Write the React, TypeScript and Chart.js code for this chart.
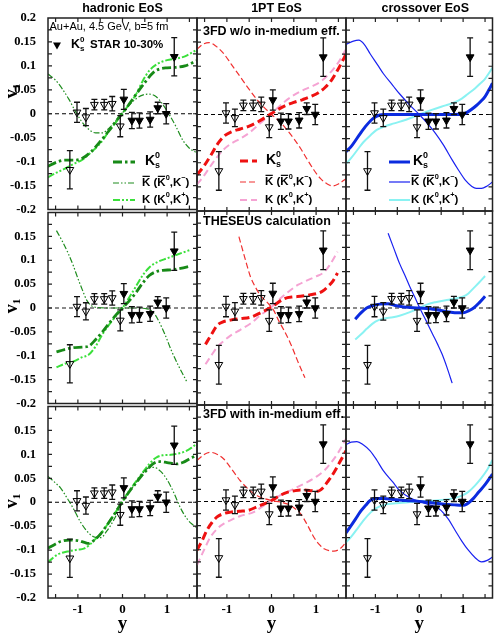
import React, { useEffect, useRef } from 'react';
import { Chart, registerables } from 'chart.js';
Chart.register(...registerables);

type Pt = [number, number];

// ---------------- text / ticks ----------------
const columnTitles = ['hadronic EoS', '1PT EoS', 'crossover EoS'];
const rowLabels = ['3FD w/o in-medium eff.', 'THESEUS calculation', '3FD with in-medium eff.'];
const xTickValues = [-1, 0, 1];
const xMinorTickValues = [-1.5, -1, -0.5, 0, 0.5, 1, 1.5];
const yTickValuesTop = [0.2, 0.15, 0.1, 0.05, 0, -0.05, -0.1, -0.15, -0.2];
const yTickValuesLower = [0.15, 0.1, 0.05, 0, -0.05, -0.1, -0.15, -0.2];
const yMinorTickValues = [0.175, 0.15, 0.125, 0.1, 0.075, 0.05, 0.025, 0, -0.025, -0.05, -0.075, -0.1, -0.125, -0.15, -0.175];

// ---------------- STAR data (K0s, 10-30%) ----------------
const starFilledRap = [0.03, 0.21, 0.38, 0.62, 0.79, 0.98, 1.16];
const starFilledV1 = [0.030, -0.014, -0.014, -0.012, 0.012, 0.000, 0.119];
const starFilledErr = [0.021, 0.017, 0.016, 0.016, 0.012, 0.021, 0.040];
const starOpenRap = [-1.18, -1.02, -0.82, -0.63, -0.41, -0.23, -0.05];
const starOpenV1 = [-0.117, 0.003, -0.007, 0.019, 0.019, 0.021, -0.026];
const starOpenErr = [0.040, 0.021, 0.018, 0.011, 0.011, 0.015, 0.022];

// ---------------- model curves: row 1, 3FD w/o in-medium ----------------
const hadWoK0s: Pt[] = [[-1.67,-0.110],[-1.5,-0.102],[-1.3,-0.097],[-1.1,-0.097],[-0.9,-0.093],[-0.7,-0.079],[-0.5,-0.058],[-0.3,-0.035],[-0.1,-0.010],[0,0.001],[0.15,0.02],[0.3,0.040],[0.5,0.065],[0.7,0.087],[0.85,0.094],[1.0,0.096],[1.2,0.097],[1.4,0.100],[1.67,0.111]];
const hadWoKbar: Pt[] = [[-1.67,0.083],[-1.5,0.070],[-1.35,0.052],[-1.2,0.030],[-1.05,0.004],[-0.9,-0.018],[-0.75,-0.033],[-0.6,-0.040],[-0.45,-0.040],[-0.3,-0.030],[-0.15,-0.015],[0,0.002],[0.15,0.018],[0.3,0.031],[0.45,0.039],[0.6,0.041],[0.75,0.036],[0.9,0.020],[1.05,-0.002],[1.2,-0.027],[1.35,-0.055],[1.5,-0.072],[1.67,-0.082]];
const hadWoK: Pt[] = [[-1.67,-0.133],[-1.5,-0.124],[-1.3,-0.115],[-1.1,-0.105],[-0.9,-0.096],[-0.7,-0.080],[-0.5,-0.062],[-0.3,-0.036],[-0.1,-0.012],[0,0.001],[0.15,0.02],[0.3,0.040],[0.45,0.068],[0.6,0.090],[0.8,0.105],[1.0,0.112],[1.2,0.115],[1.4,0.120],[1.67,0.134]];

const ptWoK0s: Pt[] = [[-1.67,-0.125],[-1.5,-0.105],[-1.35,-0.083],[-1.2,-0.060],[-1.05,-0.044],[-0.9,-0.036],[-0.7,-0.030],[-0.5,-0.024],[-0.3,-0.015],[0,0.002],[0.3,0.018],[0.5,0.025],[0.7,0.031],[0.9,0.038],[1.05,0.045],[1.2,0.056],[1.35,0.072],[1.5,0.095],[1.67,0.125]];
const ptWoKbar: Pt[] = [[-1.67,0.135],[-1.55,0.145],[-1.4,0.149],[-1.25,0.142],[-1.07,0.126],[-0.9,0.104],[-0.7,0.078],[-0.5,0.052],[-0.3,0.028],[0,0.0],[0.2,-0.016],[0.35,-0.032],[0.5,-0.050],[0.65,-0.070],[0.8,-0.093],[0.95,-0.115],[1.1,-0.133],[1.25,-0.144],[1.37,-0.148],[1.5,-0.144],[1.67,-0.133]];
const ptWoK: Pt[] = [[-1.67,-0.145],[-1.5,-0.125],[-1.3,-0.098],[-1.1,-0.075],[-0.9,-0.060],[-0.7,-0.050],[-0.5,-0.038],[-0.3,-0.022],[0,0.002],[0.3,0.027],[0.5,0.040],[0.7,0.050],[0.9,0.058],[1.1,0.068],[1.3,0.085],[1.5,0.108],[1.67,0.135]];

const coWoK0s: Pt[] = [[-1.67,-0.077],[-1.55,-0.066],[-1.35,-0.040],[-1.2,-0.022],[-1.05,-0.008],[-0.9,-0.001],[-0.8,0.0],[-0.4,0.0],[0,0.0],[0.4,0.0],[0.8,0.0],[1.0,0.001],[1.1,0.005],[1.27,0.016],[1.4,0.027],[1.5,0.037],[1.6,0.053],[1.67,0.065]];
const coWoKbar: Pt[] = [[-1.67,0.145],[-1.5,0.152],[-1.38,0.154],[-1.25,0.145],[-1.12,0.126],[-0.95,0.103],[-0.82,0.085],[-0.6,0.060],[-0.45,0.043],[-0.2,0.018],[0,0.0],[0.2,-0.020],[0.37,-0.039],[0.55,-0.063],[0.75,-0.094],[0.9,-0.116],[1.05,-0.136],[1.2,-0.149],[1.3,-0.153],[1.42,-0.153],[1.55,-0.148],[1.67,-0.140]];
const coWoK: Pt[] = [[-1.67,-0.102],[-1.55,-0.090],[-1.4,-0.072],[-1.27,-0.057],[-1.1,-0.042],[-0.97,-0.032],[-0.8,-0.025],[-0.6,-0.019],[-0.3,-0.011],[0,0.0],[0.3,0.010],[0.6,0.019],[0.8,0.025],[0.97,0.033],[1.1,0.042],[1.27,0.054],[1.4,0.065],[1.5,0.074],[1.67,0.097]];

// ---------------- row 2, THESEUS ----------------
const hadThK0s: Pt[] = [[-1.48,-0.092],[-1.3,-0.087],[-1.1,-0.083],[-0.9,-0.082],[-0.76,-0.080],[-0.6,-0.066],[-0.45,-0.050],[-0.3,-0.032],[-0.15,-0.015],[0,0.0],[0.15,0.015],[0.3,0.032],[0.45,0.052],[0.6,0.068],[0.75,0.076],[0.9,0.079],[1.1,0.080],[1.3,0.083],[1.53,0.088]];
const hadThKbar: Pt[] = [[-1.48,0.162],[-1.35,0.140],[-1.22,0.115],[-1.1,0.088],[-1.0,0.062],[-0.9,0.038],[-0.8,0.016],[-0.7,0.005],[-0.55,0.001],[-0.3,0.0],[0,0.0],[0.3,0.0],[0.55,-0.002],[0.68,-0.008],[0.8,-0.025],[0.95,-0.055],[1.1,-0.090],[1.25,-0.120],[1.45,-0.156]];
const hadThK: Pt[] = [[-1.48,-0.124],[-1.3,-0.117],[-1.1,-0.112],[-0.9,-0.103],[-0.76,-0.098],[-0.6,-0.080],[-0.45,-0.055],[-0.3,-0.035],[-0.15,-0.017],[0,0.0],[0.15,0.022],[0.3,0.045],[0.45,0.068],[0.6,0.085],[0.8,0.097],[1.0,0.104],[1.2,0.111],[1.5,0.121]];

const ptThK0s: Pt[] = [[-1.48,-0.075],[-1.35,-0.055],[-1.22,-0.036],[-1.1,-0.029],[-0.92,-0.025],[-0.7,-0.022],[-0.47,-0.019],[-0.25,-0.010],[0,0.002],[0.28,0.019],[0.5,0.023],[0.65,0.024],[0.85,0.027],[1.03,0.030],[1.15,0.035],[1.25,0.043],[1.38,0.056],[1.48,0.072]];
const ptThKbar: Pt[] = [[-0.73,0.147],[-0.7,0.137],[-0.55,0.088],[-0.47,0.064],[-0.36,0.043],[-0.25,0.026],[-0.1,0.012],[0.05,-0.005],[0.16,-0.026],[0.28,-0.046],[0.43,-0.074],[0.58,-0.108],[0.75,-0.144]];
const ptThK: Pt[] = [[-1.48,-0.116],[-1.35,-0.098],[-1.22,-0.081],[-1.07,-0.068],[-0.92,-0.057],[-0.7,-0.045],[-0.47,-0.032],[-0.25,-0.015],[0,0.002],[0.2,0.020],[0.43,0.037],[0.6,0.048],[0.8,0.057],[1.0,0.065],[1.18,0.074],[1.3,0.088],[1.48,0.116]];

const coThK0s: Pt[] = [[-1.46,-0.023],[-1.33,-0.010],[-1.2,0.0],[-1.05,0.005],[-0.9,0.008],[-0.71,0.009],[-0.55,0.005],[-0.35,0.002],[0,0.0],[0.37,-0.003],[0.67,-0.008],[0.9,-0.010],[1.01,-0.010],[1.12,-0.006],[1.24,0.0],[1.37,0.011],[1.5,0.024]];
const coThKbar: Pt[] = [[-0.71,0.154],[-0.58,0.123],[-0.45,0.092],[-0.33,0.068],[-0.22,0.045],[-0.1,0.022],[0,0.002],[0.15,-0.025],[0.3,-0.053],[0.42,-0.075],[0.52,-0.095],[0.63,-0.122],[0.75,-0.155]];
const coThK: Pt[] = [[-1.46,-0.065],[-1.3,-0.052],[-1.2,-0.043],[-1.0,-0.028],[-0.82,-0.022],[-0.6,-0.019],[-0.45,-0.016],[-0.2,-0.008],[0,0.0],[0.2,0.008],[0.37,0.012],[0.67,0.017],[0.85,0.020],[1.01,0.024],[1.12,0.030],[1.24,0.041],[1.37,0.053],[1.5,0.066]];

// ---------------- row 3, 3FD with in-medium ----------------
const hadWK0s: Pt[] = [[-1.67,-0.096],[-1.5,-0.087],[-1.39,-0.082],[-1.2,-0.079],[-1.0,-0.080],[-0.85,-0.084],[-0.76,-0.086],[-0.62,-0.078],[-0.49,-0.066],[-0.35,-0.048],[-0.19,-0.026],[0,0.002],[0.15,0.022],[0.3,0.040],[0.45,0.058],[0.55,0.068],[0.68,0.080],[0.8,0.085],[1.0,0.083],[1.2,0.080],[1.35,0.083],[1.53,0.092],[1.67,0.098]];
const hadWKbar: Pt[] = [[-1.67,0.054],[-1.5,0.040],[-1.39,0.030],[-1.25,0.010],[-1.09,-0.015],[-0.95,-0.040],[-0.8,-0.060],[-0.65,-0.072],[-0.49,-0.074],[-0.35,-0.060],[-0.19,-0.036],[0,0.0],[0.15,0.022],[0.3,0.040],[0.45,0.060],[0.55,0.070],[0.7,0.073],[0.85,0.065],[1.0,0.047],[1.15,0.020],[1.3,-0.012],[1.45,-0.035],[1.55,-0.045],[1.67,-0.053]];
const hadWK: Pt[] = [[-1.67,-0.125],[-1.45,-0.109],[-1.24,-0.103],[-1.0,-0.099],[-0.87,-0.097],[-0.75,-0.090],[-0.62,-0.078],[-0.49,-0.066],[-0.35,-0.048],[-0.19,-0.026],[0,0.002],[0.15,0.024],[0.3,0.043],[0.45,0.062],[0.6,0.080],[0.75,0.093],[0.9,0.098],[1.08,0.099],[1.25,0.102],[1.4,0.106],[1.55,0.114],[1.67,0.123]];

const ptWK0s: Pt[] = [[-1.67,-0.101],[-1.55,-0.080],[-1.45,-0.060],[-1.33,-0.043],[-1.22,-0.032],[-1.07,-0.025],[-0.92,-0.022],[-0.7,-0.020],[-0.55,-0.019],[-0.3,-0.010],[0,0.002],[0.2,0.013],[0.35,0.019],[0.5,0.022],[0.65,0.024],[0.85,0.023],[1.03,0.021],[1.15,0.028],[1.25,0.040],[1.33,0.050],[1.45,0.068],[1.55,0.085],[1.67,0.105]];
const ptWKbar: Pt[] = [[-1.67,0.085],[-1.5,0.098],[-1.37,0.102],[-1.2,0.097],[-1.07,0.088],[-0.9,0.068],[-0.7,0.043],[-0.5,0.024],[-0.32,0.012],[0,0.002],[0.2,-0.001],[0.35,-0.005],[0.5,-0.013],[0.65,-0.025],[0.8,-0.048],[0.95,-0.074],[1.08,-0.090],[1.18,-0.098],[1.3,-0.102],[1.4,-0.103],[1.55,-0.097],[1.67,-0.084]];
const ptWK: Pt[] = [[-1.67,-0.132],[-1.5,-0.098],[-1.37,-0.074],[-1.2,-0.055],[-1.05,-0.045],[-0.92,-0.039],[-0.7,-0.030],[-0.4,-0.022],[-0.2,-0.010],[0,0.002],[0.2,0.013],[0.43,0.023],[0.6,0.031],[0.8,0.040],[1.0,0.051],[1.18,0.064],[1.33,0.080],[1.48,0.099],[1.67,0.130]];

const coWK0s: Pt[] = [[-1.67,-0.065],[-1.57,-0.052],[-1.45,-0.036],[-1.35,-0.022],[-1.22,-0.008],[-1.12,0.002],[-0.97,0.006],[-0.8,0.006],[-0.6,0.004],[-0.3,0.002],[0,0.0],[0.3,-0.003],[0.52,-0.005],[0.8,-0.007],[0.97,-0.008],[1.05,-0.007],[1.12,-0.003],[1.23,0.006],[1.35,0.019],[1.5,0.035],[1.67,0.057]];
const coWKbar: Pt[] = [[-1.67,0.118],[-1.55,0.123],[-1.42,0.124],[-1.27,0.117],[-1.12,0.105],[-0.97,0.086],[-0.82,0.064],[-0.6,0.040],[-0.45,0.023],[-0.2,0.007],[0,0.0],[0.2,-0.006],[0.45,-0.015],[0.65,-0.035],[0.82,-0.060],[0.97,-0.082],[1.12,-0.101],[1.27,-0.116],[1.42,-0.125],[1.55,-0.122],[1.67,-0.115]];
const coWK: Pt[] = [[-1.67,-0.085],[-1.55,-0.073],[-1.4,-0.055],[-1.27,-0.039],[-1.1,-0.022],[-0.97,-0.013],[-0.75,-0.006],[-0.45,-0.003],[0,0.0],[0.52,0.003],[0.8,0.007],[0.97,0.012],[1.12,0.020],[1.27,0.033],[1.4,0.047],[1.55,0.066],[1.67,0.086]];

const CURVES = [
  [{ K0s: hadWoK0s, Kbar: hadWoKbar, K: hadWoK }, { K0s: ptWoK0s, Kbar: ptWoKbar, K: ptWoK }, { K0s: coWoK0s, Kbar: coWoKbar, K: coWoK }],
  [{ K0s: hadThK0s, Kbar: hadThKbar, K: hadThK }, { K0s: ptThK0s, Kbar: ptThKbar, K: ptThK }, { K0s: coThK0s, Kbar: coThKbar, K: coThK }],
  [{ K0s: hadWK0s, Kbar: hadWKbar, K: hadWK }, { K0s: ptWK0s, Kbar: ptWKbar, K: ptWK }, { K0s: coWK0s, Kbar: coWKbar, K: coWK }],
];

// ---------------- styles / layout ----------------
type LS = { color: string; width: number; dash: number[] };
const LINE_STYLES: { K0s: LS; Kbar: LS; K: LS }[] = [
  { K0s: { color: '#178a17', width: 2.8, dash: [9, 3, 2.5, 3] }, Kbar: { color: '#1e8c1e', width: 1.2, dash: [6, 2, 1.5, 2, 1.5, 2] }, K: { color: '#3be03b', width: 2, dash: [7, 2, 2, 2, 2, 2] } },
  { K0s: { color: '#ee1111', width: 3, dash: [8, 4] }, Kbar: { color: '#f03030', width: 1.2, dash: [6, 3] }, K: { color: '#f5a3d3', width: 2, dash: [7, 4] } },
  { K0s: { color: '#0b2bdf', width: 3, dash: [] }, Kbar: { color: '#1a22f0', width: 1.2, dash: [] }, K: { color: '#8af2f2', width: 2, dash: [] } },
];

const PAGE_W = 498, PAGE_H = 636;
const X_MIN = -1.67, X_MAX = 1.67, Y_MIN = -0.2, Y_MAX = 0.2;
const PLOT_X0 = 48, COL_W = 149;
const ROW_TOP = [18, 211, 405];
const ROW_BOT = [211, 405, 598];
const M = 10;
const SANS = '"Liberation Sans", Arial, sans-serif';
const SERIF = '"Liberation Serif", "Times New Roman", serif';
const colTitleDx = [0, 5, 6];
const rowLabelDy = [14, 11, 10];
const v1CenterY = [91, 306, 501];
const zeroLineStyle = [
  { color: '#000', width: 1, dash: [4, 3] },
  { color: '#666', width: 1.5, dash: [4, 3] },
  { color: '#000', width: 1, dash: [4, 3] },
];
// legend geometry (relative to plot area) for top row
const LEGEND = [
  { x0: 65, x1: 87, labK0s: 97, lab: 94, ys: [144, 165, 182] },
  { x0: 43, x1: 60, labK0s: 69, lab: 68, ys: [143, 164, 182] },
  { x0: 43, x1: 64, labK0s: 67, lab: 65, ys: [144, 164, 182] },
];

type Piece = { t: string; sup?: boolean; sub?: boolean; bar?: boolean; noAdv?: boolean };
function drawRich(ctx: CanvasRenderingContext2D, x: number, y: number, pieces: Piece[], size: number) {
  let cx = x;
  ctx.textAlign = 'left';
  ctx.textBaseline = 'middle';
  for (const p of pieces) {
    const s = p.sup || p.sub ? size * 0.64 : size;
    ctx.font = `bold ${s}px ${SANS}`;
    const dy = p.sup ? -size * 0.42 : p.sub ? size * 0.32 : 0;
    ctx.fillText(p.t, cx, y + dy);
    const w = ctx.measureText(p.t).width;
    if (p.bar) ctx.fillRect(cx + 0.5, y - size * 0.5 - 1.5, w - 1, 1.2);
    if (!p.noAdv) cx += w;
  }
}

function Panel({ r, c }: { r: number; c: number }) {
  const ref = useRef<HTMLCanvasElement>(null);
  const plotL = PLOT_X0 + c * COL_W, plotR = plotL + COL_W;
  const plotT = ROW_TOP[r], plotB = ROW_BOT[r];
  const cl = c === 0 ? 0 : plotL - M;
  const cr = c === 2 ? PAGE_W : plotR + M;
  const ct = r === 0 ? 0 : plotT - M;
  const cb = r === 2 ? PAGE_H : plotB + M;
  const cw = cr - cl, chh = cb - ct;

  useEffect(() => {
    const canvas = ref.current!;
    const curves = CURVES[r][c];
    const st = LINE_STYLES[c];
    const zl = zeroLineStyle[r];
    const toXY = (arr: Pt[]) => arr.map(([x, y]) => ({ x, y }));
    const curveDs = (arr: Pt[], s: LS) => ({
      data: toXY(arr), borderColor: s.color, borderWidth: s.width, borderDash: s.dash,
      pointRadius: 0, fill: false, cubicInterpolationMode: 'monotone' as const,
    });
    const yTicks = r === 0 ? yTickValuesTop : yTickValuesLower;

    const decor = {
      id: 'decor',
      beforeDatasetDraw(chart: any, args: any) {
        if (args.index !== 1) return;
        const xs = chart.scales.x, ys = chart.scales.y, ctx = chart.ctx as CanvasRenderingContext2D;
        ctx.save();
        ctx.strokeStyle = '#111';
        ctx.lineWidth = 1.3;
        ctx.setLineDash([]);
        const bar = (xv: number, v: number, e: number) => {
          const px = xs.getPixelForValue(xv);
          const p1 = ys.getPixelForValue(v - e), p2 = ys.getPixelForValue(v + e);
          ctx.beginPath();
          ctx.moveTo(px, p1); ctx.lineTo(px, p2);
          ctx.moveTo(px - 3, p1); ctx.lineTo(px + 3, p1);
          ctx.moveTo(px - 3, p2); ctx.lineTo(px + 3, p2);
          ctx.stroke();
        };
        starFilledRap.forEach((x, i) => bar(x, starFilledV1[i], starFilledErr[i]));
        starOpenRap.forEach((x, i) => bar(x, starOpenV1[i], starOpenErr[i]));
        ctx.restore();
      },
      afterDraw(chart: any) {
        const ctx = chart.ctx as CanvasRenderingContext2D;
        const xs = chart.scales.x, ys = chart.scales.y;
        const { left: L, right: R, top: T, bottom: B } = chart.chartArea;
        ctx.save();
        ctx.setLineDash([]);
        ctx.strokeStyle = '#222';
        ctx.lineWidth = 1.2;
        ctx.beginPath();
        for (const v of yMinorTickValues) {
          const py = ys.getPixelForValue(v);
          ctx.moveTo(L, py); ctx.lineTo(L + 4, py);
          ctx.moveTo(R, py); ctx.lineTo(R - 4, py);
        }
        for (const v of xMinorTickValues) {
          const px = xs.getPixelForValue(v);
          ctx.moveTo(px, B); ctx.lineTo(px, B - 4);
          ctx.moveTo(px, T); ctx.lineTo(px, T + 4);
        }
        ctx.stroke();
        ctx.lineWidth = 1.5;
        ctx.strokeRect(L, T, R - L, B - T);

        ctx.fillStyle = '#000';
        // column titles
        if (r === 0) {
          ctx.font = `bold 12.5px ${SANS}`;
          ctx.textAlign = 'center';
          ctx.textBaseline = 'middle';
          ctx.fillText(columnTitles[c], (L + R) / 2 + colTitleDx[c], 9 - ct);
        }
        // row labels in the middle column
        if (c === 1) {
          ctx.font = `bold 12.5px ${SANS}`;
          ctx.textAlign = 'left';
          ctx.textBaseline = 'middle';
          ctx.fillText(rowLabels[r], L + 6, T + rowLabelDy[r]);
        }
        // y-axis title v1
        if (c === 0) {
          ctx.save();
          ctx.translate(12 - cl, v1CenterY[r] - ct);
          ctx.rotate(-Math.PI / 2);
          ctx.textBaseline = 'middle';
          ctx.textAlign = 'left';
          ctx.font = `bold 18px ${SERIF}`;
          const wv = ctx.measureText('v').width;
          ctx.font = `bold 11px ${SERIF}`;
          const w1 = ctx.measureText('1').width;
          const x0 = -(wv + w1) / 2;
          ctx.font = `bold 18px ${SERIF}`;
          ctx.fillText('v', x0, 0);
          ctx.font = `bold 11px ${SERIF}`;
          ctx.fillText('1', x0 + wv, 5);
          ctx.restore();
        }
        // top-left info
        if (r === 0 && c === 0) {
          ctx.font = `11px ${SANS}`;
          ctx.textAlign = 'left';
          ctx.textBaseline = 'middle';
          ctx.fillText('Au+Au, 4.5 GeV, b=5 fm', 49.5 - cl, 27 - ct);
          const tx = 57 - cl, ty = 45 - ct;
          ctx.beginPath();
          ctx.moveTo(tx - 4, ty - 2.4); ctx.lineTo(tx + 4, ty - 2.4); ctx.lineTo(tx, ty + 4.6); ctx.closePath();
          ctx.fill();
          drawRich(ctx, 71 - cl, ty, [{ t: 'K' }, { t: '0', sup: true, noAdv: true }, { t: 's', sub: true }], 12.5);
          ctx.font = `bold 11.5px ${SANS}`;
          ctx.fillText('STAR 10-30%', 90 - cl, ty);
        }
        // legends (top row)
        if (r === 0) {
          const lg = LEGEND[c];
          const entries: [LS, number][] = [[st.K0s, lg.ys[0]], [st.Kbar, lg.ys[1]], [st.K, lg.ys[2]]];
          for (const [s, yy] of entries) {
            ctx.save();
            ctx.strokeStyle = s.color;
            ctx.lineWidth = s.width;
            ctx.setLineDash(s.dash);
            ctx.beginPath();
            ctx.moveTo(L + lg.x0, T + yy);
            ctx.lineTo(L + lg.x1, T + yy);
            ctx.stroke();
            ctx.restore();
          }
          ctx.fillStyle = '#000';
          drawRich(ctx, L + lg.labK0s, T + lg.ys[0] - 1, [{ t: 'K' }, { t: '0', sup: true, noAdv: true }, { t: 's', sub: true }], 14);
          drawRich(ctx, L + lg.lab, T + lg.ys[1], [{ t: 'K', bar: true }, { t: ' (' }, { t: 'K', bar: true }, { t: '0', sup: true }, { t: ',K' }, { t: '\u2212', sup: true }, { t: ')' }], 11.5);
          drawRich(ctx, L + lg.lab, T + lg.ys[2], [{ t: 'K' }, { t: ' (' }, { t: 'K' }, { t: '0', sup: true }, { t: ',K' }, { t: '+', sup: true }, { t: ')' }], 11.5);
        }
        ctx.restore();
      },
    };

    const chart = new Chart(canvas, {
      type: 'line',
      data: {
        datasets: [
          {
            data: starFilledRap.map((x, i) => ({ x, y: starFilledV1[i] })),
            showLine: false, pointStyle: 'triangle', rotation: 180, pointRadius: 4.5,
            backgroundColor: '#000', borderColor: '#000', borderWidth: 1, pointBackgroundColor: '#000',
          },
          {
            data: starOpenRap.map((x, i) => ({ x, y: starOpenV1[i] })),
            showLine: false, pointStyle: 'triangle', rotation: 180, pointRadius: 4.5,
            backgroundColor: 'rgba(0,0,0,0)', pointBackgroundColor: 'rgba(0,0,0,0)', borderColor: '#000', borderWidth: 1,
          },
          curveDs(curves.K0s, st.K0s),
          curveDs(curves.Kbar, st.Kbar),
          curveDs(curves.K, st.K),
          {
            data: [{ x: X_MIN, y: 0 }, { x: X_MAX, y: 0 }],
            borderColor: zl.color, borderWidth: zl.width, borderDash: zl.dash, pointRadius: 0, fill: false,
          },
        ] as any,
      },
      options: {
        responsive: false,
        animation: false,
        devicePixelRatio: 1,
        events: [],
        layout: { padding: { left: c === 0 ? 0 : M, right: cr - plotR, top: plotT - ct, bottom: r === 2 ? 0 : M } },
        plugins: { legend: { display: false }, tooltip: { enabled: false } },
        scales: {
          x: {
            type: 'linear', min: X_MIN, max: X_MAX, display: r === 2,
            grid: { display: false }, border: { display: false },
            afterBuildTicks: (s: any) => { s.ticks = xTickValues.map((v) => ({ value: v })); },
            ticks: {
              color: '#000', padding: -4, maxRotation: 0, autoSkip: false,
              font: { family: SERIF, weight: 'bold', size: 13 },
              callback: (v: any) => String(v),
            },
            title: { display: true, text: 'y', color: '#000', font: { family: SERIF, weight: 'bold', size: 19 }, padding: { top: 0, bottom: 1 } },
            afterFit: (s: any) => { if (r === 2) s.height = PAGE_H - ROW_BOT[2]; },
          },
          y: {
            type: 'linear', min: Y_MIN, max: Y_MAX, display: c === 0,
            grid: { display: false }, border: { display: false },
            afterBuildTicks: (s: any) => { s.ticks = yTicks.map((v) => ({ value: v })); },
            ticks: {
              color: '#000', padding: 4, autoSkip: false,
              font: { family: SERIF, weight: 'bold', size: 12.5 },
              callback: (v: any) => (v === 0 ? '0' : String(v)),
            },
            afterFit: (s: any) => { if (c === 0) s.width = PLOT_X0; },
          },
        },
      } as any,
      plugins: [decor],
    });
    return () => chart.destroy();
  }, []);

  return (
    <canvas
      ref={ref}
      width={cw}
      height={chh}
      style={{ position: 'absolute', left: cl, top: ct, width: cw, height: chh }}
    />
  );
}

export default function App() {
  const cells: React.ReactNode[] = [];
  for (let r = 0; r < 3; r++) for (let c = 0; c < 3; c++) cells.push(<Panel key={`${r}-${c}`} r={r} c={c} />);
  return (
    <div style={{ position: 'fixed', left: 0, top: 0, width: PAGE_W, height: PAGE_H, background: '#fff', overflow: 'hidden' }}>
      {cells}
    </div>
  );
}
